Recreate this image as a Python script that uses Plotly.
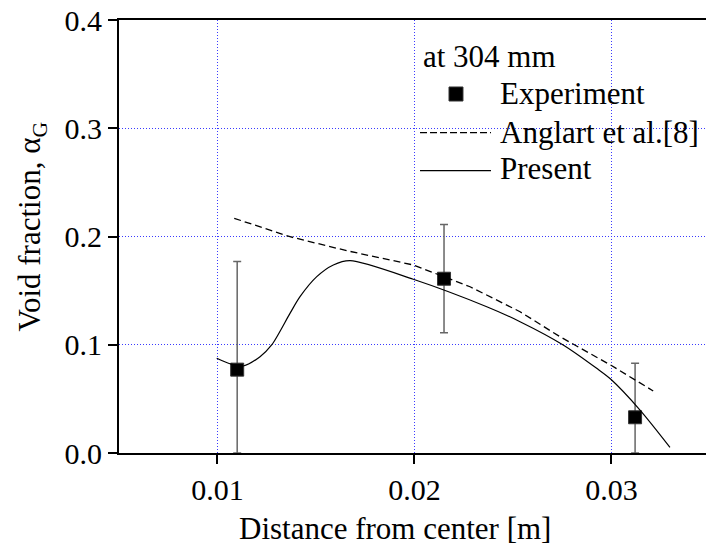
import plotly.graph_objects as go

# Experimental data (at 304 mm)
exp_x = [0.011, 0.0215, 0.0312]
exp_y = [0.077, 0.161, 0.033]
exp_err_plus = [0.100, 0.050, 0.050]
exp_err_minus = [0.077, 0.050, 0.033]

# Anglart et al.[8] (dashed)
ang_x = [0.01085, 0.01368, 0.01656, 0.01994, 0.02282, 0.02536, 0.02739, 0.03000, 0.03212]
ang_y = [0.2168, 0.1998, 0.1869, 0.1737, 0.1536, 0.1305, 0.1074, 0.0808, 0.0573]

# Present (solid)
pre_x = [0.00996, 0.01067, 0.01131, 0.01216, 0.01275, 0.01368, 0.01419, 0.01504, 0.01588,
         0.01673, 0.01994, 0.02367, 0.02536, 0.02755, 0.02925, 0.02997, 0.03145, 0.03297]
pre_y = [0.0875, 0.0822, 0.0804, 0.0890, 0.0998, 0.1290, 0.1444, 0.1629, 0.1737,
         0.1777, 0.1605, 0.1351, 0.1213, 0.0998, 0.0782, 0.0681, 0.0397, 0.0053]

x_ticks = [0.01, 0.02, 0.03]
x_ticktext = ["0.01", "0.02", "0.03"]
y_ticks = [0.0, 0.1, 0.2, 0.3, 0.4]
y_ticktext = ["0.0", "0.1", "0.2", "0.3", "0.4"]

legend_title = "at 304 mm"
names = ["Experiment", "Anglart et al.[8]", "Present"]
x_title = "Distance from center [m]"
y_title = "Void fraction, α<sub>G</sub>"

FONT = "Liberation Serif"

fig = go.Figure()

fig.add_trace(go.Scatter(
    x=exp_x, y=exp_y, mode="markers", name=names[0],
    marker=dict(symbol="square", size=13, color="black", line=dict(color="#333", width=1)),
    error_y=dict(type="data", symmetric=False, array=exp_err_plus, arrayminus=exp_err_minus,
                 color="#666666", thickness=1.5, width=4),
))
fig.add_trace(go.Scatter(
    x=ang_x, y=ang_y, mode="lines", name=names[1],
    line=dict(color="black", width=1.3, dash="7px,4px"),
))
fig.add_trace(go.Scatter(
    x=pre_x, y=pre_y, mode="lines", name=names[2],
    line=dict(color="black", width=1.2, shape="spline", smoothing=0.8),
))

axis_common = dict(
    showline=True, linecolor="black", linewidth=2,
    ticks="outside", ticklen=9, tickwidth=1.5, tickcolor="black",
    showgrid=True, gridcolor="#3a3aff", gridwidth=1, griddash="1px,2px",
    zeroline=False, automargin=False,
    tickfont=dict(family=FONT, size=30, color="black"),
)

txt = dict(family=FONT, size=31, color="black")

annotations = [
    dict(text=x_title, xref="paper", yref="paper", x=0.4702, y=-0.1744,
         xanchor="center", yanchor="middle", showarrow=False, font=txt),
    dict(text=y_title, xref="paper", yref="paper", x=-0.1474, y=0.5242, textangle=-90,
         xanchor="center", yanchor="middle", showarrow=False, font=txt),
    dict(text=legend_title, xref="paper", yref="paper", x=0.5145, y=0.9150,
         xanchor="left", yanchor="middle", showarrow=False, font=txt),
    dict(text=names[0], xref="paper", yref="paper", x=0.6457, y=0.8314,
         xanchor="left", yanchor="middle", showarrow=False, font=txt),
    dict(text=names[1], xref="paper", yref="paper", x=0.6457, y=0.7413,
         xanchor="left", yanchor="middle", showarrow=False, font=txt),
    dict(text=names[2], xref="paper", yref="paper", x=0.6457, y=0.6559,
         xanchor="left", yanchor="middle", showarrow=False, font=txt),
]

shapes = [
    dict(type="rect", xref="paper", yref="paper", x0=0.5622, x1=0.5860, y0=0.8129, y1=0.8453,
         fillcolor="black", line=dict(color="#333", width=1)),
    dict(type="line", xref="paper", yref="paper", x0=0.5128, x1=0.6337, y0=0.7397, y1=0.7397,
         line=dict(color="black", width=1.3, dash="7px,3px")),
    dict(type="line", xref="paper", yref="paper", x0=0.5128, x1=0.6337, y0=0.6520, y1=0.6520,
         line=dict(color="black", width=1.2)),
]

fig.update_layout(
    width=706, height=546,
    margin=dict(l=119, r=0, t=20, b=93),
    paper_bgcolor="white", plot_bgcolor="white",
    font=dict(family=FONT, size=30, color="black"),
    xaxis=dict(range=[0.005, 0.0348], tickvals=x_ticks, ticktext=x_ticktext, mirror=True,
               **axis_common),
    yaxis=dict(range=[0.0, 0.4], tickvals=y_ticks, ticktext=y_ticktext, mirror=False,
               **axis_common),
    showlegend=False,
    annotations=annotations,
    shapes=shapes,
)

fig.write_html("out.html")
